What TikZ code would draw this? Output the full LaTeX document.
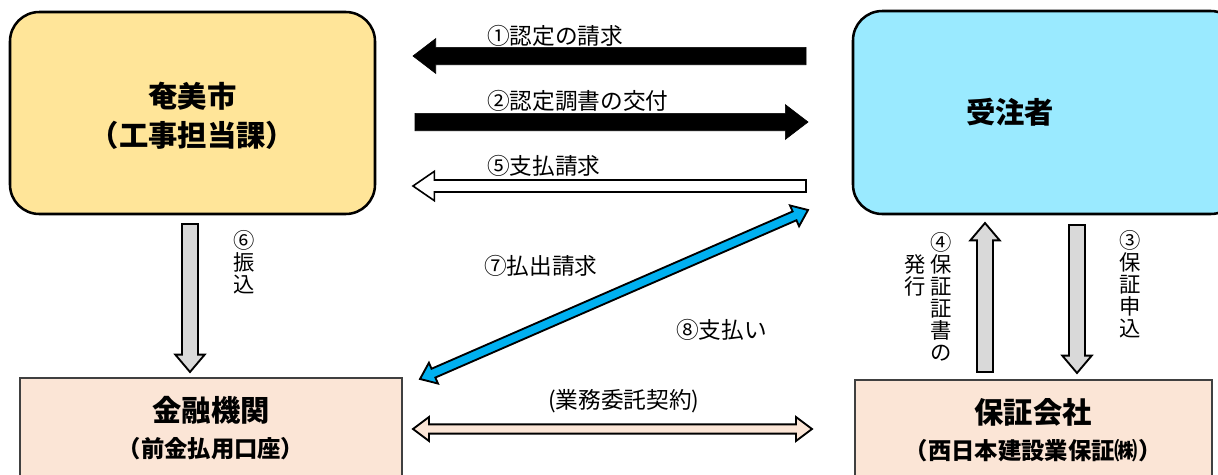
\documentclass[tikz,border=0pt]{standalone}
\usepackage{fontspec}
\usetikzlibrary{calc}
\newfontfamily\jp{Noto Sans CJK JP}
\definecolor{boxyellow}{HTML}{FFE599}
\definecolor{boxcyan}{HTML}{9AEAFF}
\definecolor{boxpeach}{HTML}{FBE5D6}
\definecolor{arrblue}{HTML}{00B0F0}
\definecolor{arrgrey}{HTML}{D9D9D9}
% single block arrow: #1 style, #2 start, #3 tip, #4 shaft half, #5 head half, #6 head length
\newcommand{\blkarrow}[6]{%
  \path coordinate (hb) at ($(#3)!#6!(#2)$);
  \draw[#1] ($(#2)!#4!90:(#3)$) -- ($(hb)!#4!90:(#3)$) -- ($(hb)!#5!90:(#3)$) -- (#3)
     -- ($(hb)!#5!-90:(#3)$) -- ($(hb)!#4!-90:(#3)$) -- ($(#2)!#4!-90:(#3)$) -- cycle;}
% double block arrow
\newcommand{\dblarrow}[6]{%
  \path coordinate (hb) at ($(#3)!#6!(#2)$) coordinate (ha) at ($(#2)!#6!(#3)$);
  \draw[#1] (#2) -- ($(ha)!#5!90:(#3)$) -- ($(ha)!#4!90:(#3)$) -- ($(hb)!#4!90:(#3)$) -- ($(hb)!#5!90:(#3)$) -- (#3)
     -- ($(hb)!#5!-90:(#3)$) -- ($(hb)!#4!-90:(#3)$) -- ($(ha)!#4!-90:(#3)$) -- ($(ha)!#5!-90:(#3)$) -- cycle;}
\tikzset{
  rbox/.style={draw=black, line width=1.9pt, rounded corners=22pt, inner sep=0pt},
  pbox/.style={draw=black!75, line width=0.8pt, fill=boxpeach, inner sep=0pt},
  lbl/.style={font=\jp\fontsize{17}{19}\selectfont, inner sep=0pt},
  vlbl/.style={font=\jp\fontsize{16}{16.5}\selectfont, inner sep=0pt, align=center},
  blackarr/.style={fill=black, draw=black, line width=0.5pt},
  whitearr/.style={fill=white, draw=black, line width=1.2pt},
  greyarr/.style={fill=arrgrey, draw=black, line width=1.4pt},
  bluearr/.style={fill=arrblue, draw=black, line width=1.4pt},
  peacharr/.style={fill=boxpeach, draw=black, line width=1.4pt},
}
\begin{document}
\begin{tikzpicture}[x=0.75pt, y=-0.75pt]
\useasboundingbox (0,0) rectangle (1218,475);
% boxes
\path[rbox, fill=boxyellow] (10,12) rectangle (375,214);
\node[inner sep=0pt, align=center, font=\jp\bfseries\fontsize{22}{29}\selectfont] (city) at (192.5,116) {奄美市\\（工事担当課）};
\path[rbox, fill=boxcyan] (853,11) rectangle (1240,214);
\node[inner sep=0pt, font=\jp\bfseries\fontsize{22}{26}\selectfont] (contr) at (1010,112) {受注者};
\path[pbox] (20,378) rectangle (402,490);
\node[inner sep=0pt, align=center, font=\jp\bfseries\fontsize{22}{30}\selectfont] (bank) at (211,428) {金融機関\\[-3pt]{\fontsize{17.5}{20}\selectfont（前金払用口座）}};
\path[pbox] (855,380) rectangle (1212,490);
\node[inner sep=0pt, align=center, font=\jp\bfseries\fontsize{22}{30}\selectfont] (guar) at (1033,430) {保証会社\\[-3pt]{\fontsize{17.5}{20}\selectfont（西日本建設業保証㈱）}};
% arrow endpoints
\coordinate (a1s) at (806,56);  \coordinate (a1e) at (413,56);
\coordinate (a2s) at (415,122); \coordinate (a2e) at (808,122);
\coordinate (a5s) at (806,186); \coordinate (a5e) at (413,186);
\coordinate (a7s) at (420,379); \coordinate (a7e) at (808,210);
\coordinate (a6s) at (190,224); \coordinate (a6e) at (190,372);
\coordinate (a4s) at (985,372); \coordinate (a4e) at (985,223);
\coordinate (a3s) at (1077,225);\coordinate (a3e) at (1077,373);
\coordinate (acs) at (413,429); \coordinate (ace) at (812,429);
% arrows
\blkarrow{blackarr}{a1s}{a1e}{6.5pt}{13pt}{17pt}
\blkarrow{blackarr}{a2s}{a2e}{6.5pt}{13pt}{17pt}
\blkarrow{whitearr}{a5s}{a5e}{4.5pt}{11pt}{16pt}
\dblarrow{bluearr}{a7s}{a7e}{3.6pt}{8.5pt}{11pt}
\blkarrow{greyarr}{a6s}{a6e}{6pt}{11pt}{13pt}
\blkarrow{greyarr}{a4s}{a4e}{6pt}{11pt}{13pt}
\blkarrow{greyarr}{a3s}{a3e}{6pt}{11pt}{13pt}
\dblarrow{peacharr}{acs}{ace}{3.5pt}{9pt}{12pt}
% labels
\node[lbl, anchor=west] (l1) at (487,36) {①認定の請求};
\node[lbl, anchor=west] (l2) at (487,101) {②認定調書の交付};
\node[lbl, anchor=west] (l5) at (487,166) {⑤支払請求};
\node[lbl, anchor=west] (l7) at (484,266) {⑦払出請求};
\node[lbl, anchor=west] (l8) at (676,330) {⑧支払い};
\node[lbl, anchor=west] (lc) at (548,401) {(業務委託契約)};
\node[vlbl, anchor=north] (l6) at (244,230) {⑥\\振\\込};
\node[vlbl, anchor=north] (l4) at (941,232) {④\\保\\証\\証\\書\\の};
\node[vlbl, anchor=north] (l4b) at (915,254) {発\\行};
\node[vlbl, anchor=north] (l3) at (1130,230) {③\\保\\証\\申\\込};
\end{tikzpicture}
\end{document}
